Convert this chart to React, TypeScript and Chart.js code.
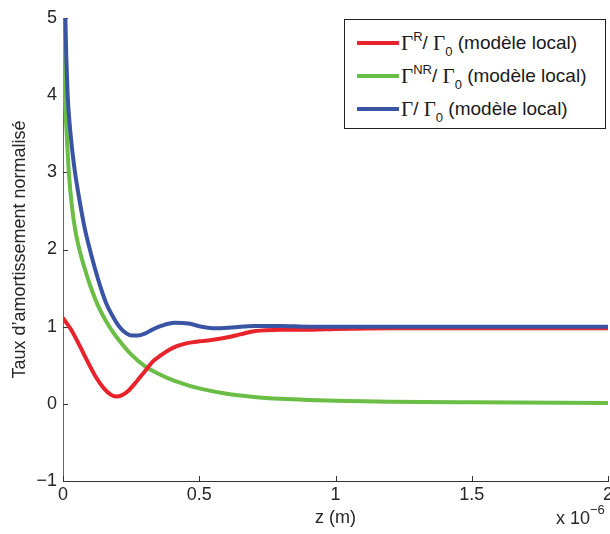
import React, { useEffect, useRef } from "react";
import { Chart, registerables } from "chart.js";

Chart.register(...registerables);

// z in units of 1e-6 m
const zTotal = [0.004, 0.008, 0.012, 0.017, 0.025, 0.035, 0.044, 0.06, 0.08, 0.1, 0.13, 0.16, 0.185, 0.209, 0.23, 0.252, 0.275, 0.3, 0.33, 0.36, 0.41, 0.46, 0.51, 0.56, 0.62, 0.7, 0.8, 0.9, 1.0, 1.2, 1.5, 2.0];
const gammaTotal = [6.0, 5.1, 4.5, 4.0, 3.6, 3.25, 3.0, 2.65, 2.27, 1.98, 1.6, 1.29, 1.12, 0.99, 0.92, 0.885, 0.885, 0.91, 0.965, 1.01, 1.05, 1.04, 1.0, 0.98, 0.99, 1.01, 1.01, 1.0, 1.0, 1.0, 1.0, 1.0];

const zNR = [0, 0.004, 0.008, 0.0136, 0.022, 0.033, 0.045, 0.06, 0.08, 0.1, 0.13, 0.172, 0.2, 0.25, 0.3, 0.35, 0.4, 0.45, 0.5, 0.6, 0.7, 0.8, 0.9, 1.0, 1.2, 1.5, 2.0];
const gammaNR = [5.4, 4.4, 3.9, 3.5, 2.97, 2.55, 2.25, 2.0, 1.75, 1.53, 1.26, 0.99, 0.85, 0.64, 0.49, 0.39, 0.31, 0.25, 0.2, 0.13, 0.09, 0.065, 0.05, 0.04, 0.028, 0.02, 0.012];

const zR = [0, 0.03, 0.06, 0.09, 0.12, 0.15, 0.175, 0.195, 0.215, 0.24, 0.27, 0.3, 0.33, 0.36, 0.39, 0.42, 0.46, 0.5, 0.55, 0.6, 0.65, 0.7, 0.8, 0.9, 1.0, 1.2, 1.5, 2.0];
const gammaR = [1.11, 0.96, 0.76, 0.55, 0.35, 0.2, 0.12, 0.095, 0.11, 0.17, 0.29, 0.42, 0.55, 0.63, 0.7, 0.75, 0.79, 0.81, 0.83, 0.86, 0.9, 0.94, 0.96, 0.96, 0.97, 0.98, 0.98, 0.98];

const xTicks = [0, 0.5, 1, 1.5, 2];
const yTicks = [-1, 0, 1, 2, 3, 4, 5];

const RED = "#e8232b";
const GREEN = "#6abd45";
const BLUE = "#3a54a4";

const SANS = '"Liberation Sans", Arial, Helvetica, sans-serif';
const SERIF = '"Liberation Serif", "Times New Roman", serif';

const pts = (xs: number[], ys: number[]) => xs.map((x, i) => ({ x, y: ys[i] }));

const inwardTicks = {
  id: "inwardTicks",
  beforeDatasetsDraw(chart: any) {
    const { ctx, chartArea, scales } = chart;
    ctx.save();
    ctx.strokeStyle = "#333";
    ctx.lineWidth = 1;
    ctx.beginPath();
    for (const v of yTicks) {
      const y = Math.round(scales.y.getPixelForValue(v)) + 0.5;
      ctx.moveTo(chartArea.left, y);
      ctx.lineTo(chartArea.left + 5, y);
    }
    for (const v of xTicks) {
      const x = Math.round(scales.x.getPixelForValue(v)) + 0.5;
      ctx.moveTo(x, chartArea.bottom);
      ctx.lineTo(x, chartArea.bottom - 5);
    }
    ctx.stroke();
    ctx.restore();
  },
};

export default function App() {
  const ref = useRef<HTMLCanvasElement>(null);

  useEffect(() => {
    if (!ref.current) return;
    Chart.defaults.font.family = SANS;
    const line = (data: any, color: string) => ({
      data,
      borderColor: color,
      borderWidth: 4,
      pointRadius: 0,
      cubicInterpolationMode: "monotone",
      fill: false,
      borderCapStyle: "round",
      borderJoinStyle: "round",
    });
    const chart = new Chart(ref.current, {
      type: "line",
      data: {
        datasets: [
          { label: "total", ...line(pts(zTotal, gammaTotal), BLUE) },
          { label: "R", ...line(pts(zR, gammaR), RED) },
          { label: "NR", ...line(pts(zNR, gammaNR), GREEN) },
        ],
      },
      options: {
        animation: false,
        responsive: false,
        maintainAspectRatio: false,
        layout: { padding: { left: 0, top: 18, right: 2, bottom: 0 } },
        plugins: { legend: { display: false }, tooltip: { enabled: false } },
        scales: {
          x: {
            type: "linear",
            min: 0,
            max: 2,
            afterBuildTicks: (s: any) => { s.ticks = xTicks.map((v) => ({ value: v })); },
            ticks: { color: "#262626", font: { size: 18 }, padding: 3, maxRotation: 0, callback: (v: any) => String(v) },
            grid: { display: true, drawOnChartArea: false, drawTicks: false },
            border: { display: true, color: "#333", width: 1 },
            title: { display: true, text: "z (m)", color: "#262626", font: { size: 18 }, padding: { top: 0, bottom: 5 } },
            afterFit: (s: any) => { s.height = 53; s.paddingLeft = 0; s.paddingRight = 0; },
          },
          y: {
            min: -1,
            max: 5,
            afterBuildTicks: (s: any) => { s.ticks = yTicks.map((v) => ({ value: v })); },
            ticks: { color: "#262626", font: { size: 18 }, padding: 6, callback: (v: any) => String(v).replace("-", "\u2212") },
            grid: { display: true, drawOnChartArea: false, drawTicks: false },
            border: { display: true, color: "#666", width: 1 },
            title: { display: true, text: "Taux d\u2019amortissement normalisé", color: "#262626", font: { size: 18 }, padding: { top: 9, bottom: 0 } },
            afterFit: (s: any) => { s.width = 63; s.paddingTop = 0; s.paddingBottom = 0; },
          },
        },
      },
      plugins: [inwardTicks],
    } as any);
    return () => chart.destroy();
  }, []);

  const row = (top: number, color: string, sup: string) => (
    <div style={{ position: "absolute", left: 0, top, height: 26, display: "flex", alignItems: "center", whiteSpace: "nowrap" }}>
      <span style={{ display: "inline-block", width: 42, height: 4, background: color, marginLeft: 12, marginRight: 2 }} />
      <span style={{ fontFamily: SERIF, fontSize: 21 }}>Γ</span>
      {sup ? <span style={{ fontSize: 13, position: "relative", top: -7 }}>{sup}</span> : null}
      <span>/&nbsp;</span>
      <span style={{ fontFamily: SERIF, fontSize: 21 }}>Γ</span>
      <span style={{ fontSize: 13, position: "relative", top: 8 }}>0</span>
      <span>&nbsp;(modèle local)</span>
    </div>
  );

  return (
    <div style={{ position: "fixed", left: 0, top: 0, width: 610, height: 534, background: "#fff", fontFamily: SANS, color: "#1a1a1a" }}>
      <canvas ref={ref} width={610} height={534} style={{ display: "block" }} />
      <div style={{ position: "absolute", left: 344, top: 19, width: 260, height: 108, border: "1px solid #222", background: "#fff", fontSize: 19 }}>
        {row(10, RED, "R")}
        {row(43, GREEN, "NR")}
        {row(76, BLUE, "")}
      </div>
      <div style={{ position: "absolute", left: 556, top: 508, fontSize: 18, lineHeight: "20px", color: "#262626", whiteSpace: "nowrap" }}>
        x 10<span style={{ fontSize: 13, position: "relative", top: -10 }}>{"\u22126"}</span>
      </div>
    </div>
  );
}
